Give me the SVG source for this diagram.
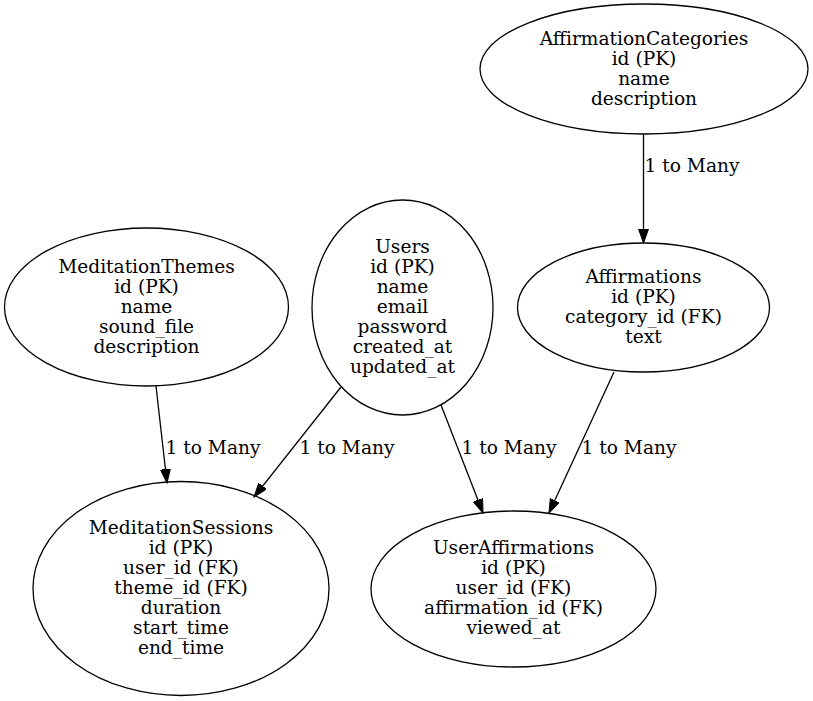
<svg xmlns="http://www.w3.org/2000/svg" width="813" height="701" viewBox="0 0 813 701">
<style>
.n ellipse{fill:none;stroke:#000;stroke-width:1.3}
text{font-family:"DejaVu Serif","Liberation Serif",serif;font-size:18.6px;fill:#000;text-anchor:middle}
.e line{stroke:#000;stroke-width:1.3}
</style>
<defs>
<marker id="ah" markerUnits="userSpaceOnUse" markerWidth="15" markerHeight="11" refX="14" refY="5" orient="auto">
<path d="M0,0 L14,5 L0,10 z" fill="#000" stroke="#000" stroke-width="1"/>
</marker>
</defs>
<rect width="813" height="701" fill="#fff"/>
<g class="e" id="edges">
<line x1="643.5" y1="134" x2="643.5" y2="243" marker-end="url(#ah)"/>
<text x="692" y="172">1 to Many</text>
<line x1="156" y1="386" x2="167" y2="483" marker-end="url(#ah)"/>
<text x="213" y="454">1 to Many</text>
<line x1="341" y1="387" x2="254" y2="497" marker-end="url(#ah)"/>
<text x="347" y="454">1 to Many</text>
<line x1="441" y1="405" x2="483" y2="513" marker-end="url(#ah)"/>
<text x="509" y="454">1 to Many</text>
<line x1="614" y1="372" x2="549" y2="513" marker-end="url(#ah)"/>
<text x="629" y="454">1 to Many</text>
</g>
<g class="n" id="AffirmationCategories">
<ellipse cx="644" cy="69" rx="164" ry="65"/>
<text x="644" y="45">AffirmationCategories</text>
<text x="644" y="65">id (PK)</text>
<text x="644" y="85">name</text>
<text x="644" y="105">description</text>
</g>
<g class="n" id="Affirmations">
<ellipse cx="643.5" cy="307.5" rx="126" ry="64.5"/>
<text x="643.5" y="283">Affirmations</text>
<text x="643.5" y="303">id (PK)</text>
<text x="643.5" y="323">category_id (FK)</text>
<text x="643.5" y="343">text</text>
</g>
<g class="n" id="Users">
<ellipse cx="402.5" cy="307.5" rx="90.5" ry="107.5"/>
<text x="402.5" y="253">Users</text>
<text x="402.5" y="273">id (PK)</text>
<text x="402.5" y="293">name</text>
<text x="402.5" y="313">email</text>
<text x="402.5" y="333">password</text>
<text x="402.5" y="353">created_at</text>
<text x="402.5" y="373">updated_at</text>
</g>
<g class="n" id="MeditationThemes">
<ellipse cx="146.5" cy="307" rx="142" ry="79"/>
<text x="146.5" y="273">MeditationThemes</text>
<text x="146.5" y="293">id (PK)</text>
<text x="146.5" y="313">name</text>
<text x="146.5" y="333">sound_file</text>
<text x="146.5" y="353">description</text>
</g>
<g class="n" id="MeditationSessions">
<ellipse cx="181" cy="588.5" rx="148" ry="107"/>
<text x="181" y="534">MeditationSessions</text>
<text x="181" y="554">id (PK)</text>
<text x="181" y="574">user_id (FK)</text>
<text x="181" y="594">theme_id (FK)</text>
<text x="181" y="614">duration</text>
<text x="181" y="634">start_time</text>
<text x="181" y="654">end_time</text>
</g>
<g class="n" id="UserAffirmations">
<ellipse cx="513.5" cy="589" rx="142.5" ry="78"/>
<text x="513.5" y="554">UserAffirmations</text>
<text x="513.5" y="574">id (PK)</text>
<text x="513.5" y="594">user_id (FK)</text>
<text x="513.5" y="614">affirmation_id (FK)</text>
<text x="513.5" y="634">viewed_at</text>
</g>
</svg>
